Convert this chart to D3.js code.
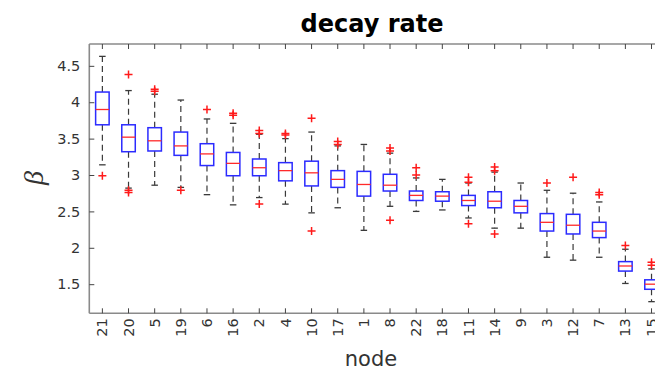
<!DOCTYPE html>
<html>
<head>
<meta charset="utf-8">
<script src="https://cdn.jsdelivr.net/npm/d3@7"></script>
<style>
  html, body { margin: 0; padding: 0; background: #fff; }
  svg { display: block; }
</style>
</head>
<body>
<svg id="chart" width="655" height="373"></svg>
<script>
// Decay rate per node, ordered by descending median
const nodes = ["21","20","5","19","6","16","2","4","10","17","1","8","22","18","11","14","9","3","12","7","13","15"];
const whiskerHigh = [4.63,4.16,4.11,4.03,3.77,3.71,3.56,3.50,3.59,3.40,3.42,3.30,2.96,2.94,2.89,3.04,2.89,2.79,2.75,2.63,1.98,1.71];
const q3 =          [4.14,3.69,3.65,3.59,3.43,3.31,3.22,3.17,3.19,3.06,3.05,3.01,2.78,2.77,2.72,2.77,2.65,2.47,2.46,2.35,1.81,1.56];
const medians =     [3.90,3.52,3.47,3.40,3.29,3.16,3.10,3.06,3.03,2.94,2.87,2.86,2.72,2.71,2.65,2.64,2.57,2.35,2.31,2.23,1.75,1.50];
const q1 =          [3.69,3.32,3.33,3.27,3.13,2.99,2.99,2.92,2.85,2.83,2.71,2.78,2.65,2.64,2.58,2.55,2.48,2.23,2.19,2.14,1.68,1.43];
const whiskerLow =  [3.14,2.82,2.86,2.83,2.73,2.59,2.69,2.60,2.48,2.55,2.24,2.57,2.50,2.52,2.41,2.27,2.27,1.87,1.83,1.87,1.51,1.26];
const outliers = [
  [2.99],
  [4.38, 2.79, 2.76],
  [4.18, 4.15],
  [2.79],
  [3.90],
  [3.85, 3.82],
  [3.61, 3.57, 2.60],
  [3.57, 3.55],
  [3.78, 2.23],
  [3.46, 3.42],
  [],
  [3.37, 3.33, 2.38],
  [3.10, 3.00],
  [],
  [2.97, 2.90, 2.33],
  [3.11, 3.06, 2.19],
  [],
  [2.89],
  [2.97],
  [2.76, 2.73],
  [2.03],
  [1.80, 1.76]
];
const yTicks = [1.5, 2, 2.5, 3, 3.5, 4, 4.5];

const svg = d3.select("#chart");
const plotLeft = 89.3, plotRight = 664.6, plotTop = 44, plotBottom = 313.3;

const x = d3.scaleBand().domain(nodes).range([plotLeft, plotRight]).padding(0);
const y = d3.scaleLinear().domain([1.1, 4.8]).range([plotBottom, plotTop]);
const cx = d => x(d) + x.bandwidth() / 2;
const boxW = 13.5, capW = 6.5;

const axisColor = "#8a8a8a";
const textColor = "#333";

// Boxes
const g = svg.append("g");
nodes.forEach((n, i) => {
  const c = cx(n);
  // dashed whiskers
  g.append("line").attr("x1", c).attr("x2", c).attr("y1", y(q3[i])).attr("y2", y(whiskerHigh[i]))
    .attr("stroke", "#3a3a3a").attr("stroke-width", 1.2).attr("stroke-dasharray", "6,4");
  g.append("line").attr("x1", c).attr("x2", c).attr("y1", y(q1[i])).attr("y2", y(whiskerLow[i]))
    .attr("stroke", "#3a3a3a").attr("stroke-width", 1.2).attr("stroke-dasharray", "6,4");
  // caps
  [whiskerHigh[i], whiskerLow[i]].forEach(v => {
    g.append("line").attr("x1", c - capW / 2).attr("x2", c + capW / 2).attr("y1", y(v)).attr("y2", y(v))
      .attr("stroke", "#3a3a3a").attr("stroke-width", 1.3);
  });
  // box
  g.append("rect").attr("x", c - boxW / 2).attr("y", y(q3[i]))
    .attr("width", boxW).attr("height", y(q1[i]) - y(q3[i]))
    .attr("fill", "none").attr("stroke", "#2b2bff").attr("stroke-width", 1.5);
  // median
  g.append("line").attr("x1", c - boxW / 2).attr("x2", c + boxW / 2)
    .attr("y1", y(medians[i])).attr("y2", y(medians[i]))
    .attr("stroke", "#ff2a2a").attr("stroke-width", 1.3);
  // outliers
  outliers[i].forEach(v => {
    const yy = y(v), s = 4;
    g.append("path").attr("d", `M${c - s},${yy}H${c + s}M${c},${yy - s}V${yy + s}`)
      .attr("stroke", "#ff1a1a").attr("stroke-width", 1.5).attr("fill", "none");
  });
});

// Axes
const yAxis = d3.axisLeft(y).tickValues(yTicks).tickSize(-5).tickPadding(9).tickFormat(d3.format("~g"));
const yg = svg.append("g").attr("transform", `translate(${plotLeft},0)`).call(yAxis);
yg.select(".domain").attr("stroke", axisColor).attr("stroke-width", 1.6).attr("d", `M0,${plotTop}V${plotBottom}`);
yg.selectAll(".tick line").attr("stroke", "#444").attr("stroke-width", 1);
yg.selectAll(".tick text").attr("fill", textColor).style("font-family", "'DejaVu Sans', sans-serif").style("font-size", "14.5px");

const xAxis = d3.axisBottom(x).tickSize(-5).tickPadding(5);
const xg = svg.append("g").attr("transform", `translate(0,${plotBottom})`).call(xAxis);
xg.select(".domain").attr("stroke", axisColor).attr("stroke-width", 1.6).attr("d", `M${plotLeft},0H${plotRight}`);
xg.selectAll(".tick line").attr("stroke", "#444").attr("stroke-width", 1);
xg.selectAll(".tick text")
  .attr("fill", textColor)
  .style("font-family", "'DejaVu Sans', sans-serif").style("font-size", "14.5px")
  .attr("transform", "rotate(-90)")
  .attr("text-anchor", "end")
  .attr("x", -5).attr("y", 0).attr("dy", "0.35em");

const xTop = d3.axisTop(x).tickSize(-5).tickFormat("");
const tg = svg.append("g").attr("transform", `translate(0,${plotTop})`).call(xTop);
tg.select(".domain").attr("stroke", axisColor).attr("stroke-width", 1.6).attr("d", `M${plotLeft},0H${plotRight}`);
tg.selectAll(".tick line").attr("stroke", "#444").attr("stroke-width", 1);

// Titles
svg.append("text").attr("x", 372).attr("y", 32).attr("text-anchor", "middle")
  .style("font-family", "'DejaVu Sans', sans-serif").style("font-size", "24px").style("font-weight", "bold")
  .attr("fill", "#000").text("decay rate");

svg.append("text").attr("x", 371).attr("y", 366).attr("text-anchor", "middle")
  .style("font-family", "'DejaVu Sans', sans-serif").style("font-size", "21px")
  .attr("fill", textColor).text("node");

svg.append("text").attr("transform", "translate(43,178) rotate(-90)").attr("text-anchor", "middle")
  .style("font-family", "'Liberation Serif', serif").style("font-size", "28px").style("font-style", "italic")
  .attr("fill", textColor).text("β");
</script>
</body>
</html>
